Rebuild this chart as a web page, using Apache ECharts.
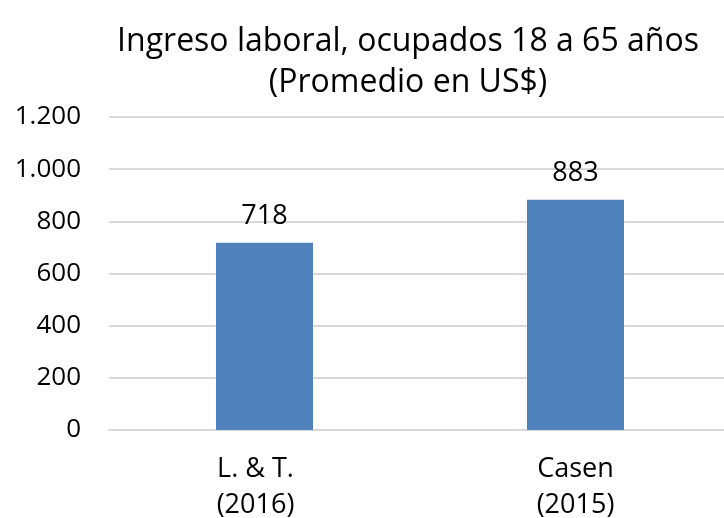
<!DOCTYPE html>
<html>
<head>
<meta charset="utf-8">
<script src="https://cdn.jsdelivr.net/npm/echarts@6/dist/echarts.min.js"></script>
<style>
    html, body { margin: 0; padding: 0; background: #fff; }
    #chart { width: 724px; height: 518px; }
</style>
</head>
<body>
<div id="chart"></div>
<script>
var categories = ['L. & T.\n(2016)', 'Casen\n(2015)'];
var values = [718, 883];
var yTicks = [0, 200, 400, 600, 800, 1000, 1200];

var fontName = 'Open Sans';

// separador de miles con punto
function fmtNum(v) {
    return String(v).replace(/\B(?=(\d{3})+(?!\d))/g, '.');
}

// la primera etiqueta va un poco a la izquierda en el original
var catData = categories.map(function (c, i) {
    return i === 0 ? { value: c, textStyle: { padding: [0, 18, 0, 0] } } : c;
});

var chart = echarts.init(document.getElementById('chart'));

var option = {
    backgroundColor: '#fff',
    animation: false,
    title: {
        text: 'Ingreso laboral, ocupados 18 a 65 años\n(Promedio en US$)',
        left: 403,
        textAlign: 'center',
        top: 16,
        textStyle: {
            fontFamily: fontName,
            fontSize: 32,
            fontWeight: 'normal',
            color: '#000',
            lineHeight: 41
        }
    },
    grid: {
        left: 109,
        right: -7,
        top: 117,
        bottom: 88,
        outerBoundsMode: 'none',
        containLabel: false
    },
    xAxis: {
        type: 'category',
        data: catData,
        axisLine: { show: true, lineStyle: { color: '#D9D9D9', width: 2 } },
        axisTick: { show: false },
        axisLabel: {
            margin: 21,
            fontFamily: fontName,
            fontSize: 27,
            color: '#000',
            lineHeight: 36
        }
    },
    yAxis: {
        type: 'value',
        min: yTicks[0],
        max: yTicks[yTicks.length - 1],
        interval: 200,
        axisLine: { show: false },
        axisTick: { show: false },
        splitLine: { lineStyle: { color: '#D9D9D9', width: 2 } },
        axisLabel: {
            margin: 28,
            fontFamily: fontName,
            fontSize: 26,
            color: '#000',
            formatter: function (v) { return fmtNum(v); }
        }
    },
    series: [{
        type: 'bar',
        data: values,
        barWidth: 97,
        itemStyle: { color: '#4F81BD' },
        label: {
            show: true,
            position: 'top',
            distance: 13,
            fontFamily: fontName,
            fontSize: 27,
            color: '#000',
            formatter: function (p) { return fmtNum(p.value); }
        }
    }]
};

chart.setOption(option);
</script>
</body>
</html>
